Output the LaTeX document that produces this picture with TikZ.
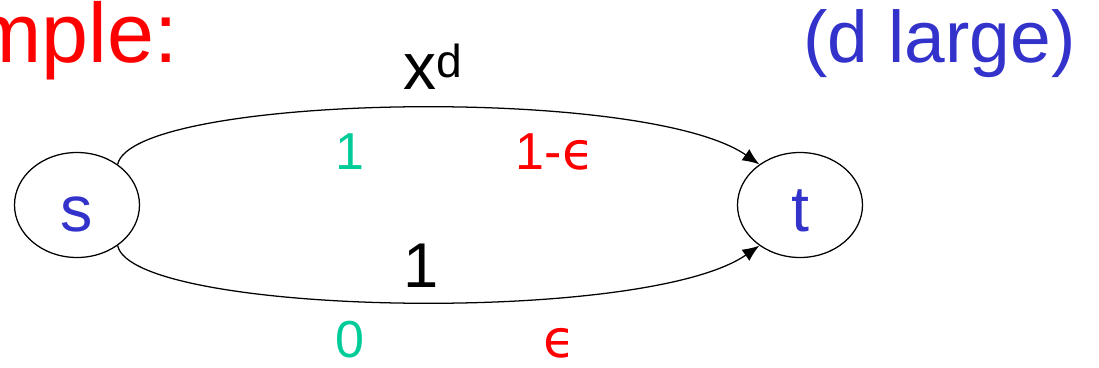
\documentclass[tikz,border=0pt]{standalone}
\usepackage{fontspec}
\setmainfont{Liberation Sans}
\newfontfamily\epsfont{DejaVu Sans}
\usepackage{tikz}
\usetikzlibrary{arrows.meta,shapes.geometric}
\definecolor{hot}{HTML}{FF0000}
\definecolor{ultra}{HTML}{3333CC}
\definecolor{mint}{HTML}{00CC99}
\newcommand{\fsz}[1]{\fontsize{#1}{#1}\selectfont}
\newcommand{\eps}{{\epsfont ϵ}}
\tikzset{
  >={Latex[length=4.2mm,width=3.4mm]},
  vertex/.style = {ellipse, draw=black, line width=0.9pt, inner sep=0pt,
                   minimum width=31.25mm, minimum height=26.25mm,
                   text=ultra, font=\fsz{46pt}, text height=37pt, text depth=0pt},
  arc/.style    = {->, draw=black, line width=0.9pt},
  lbl/.style    = {inner sep=0pt, anchor=base},
}
\begin{document}
\begin{tikzpicture}[x=0.25mm, y=-0.25mm]
\useasboundingbox (0,0) rectangle (1099,368);

% ---------------- headings --------------------------------------------
\node[lbl, anchor=base east, text=hot, font=\fsz{60pt}] (head) at (178,63) {mple:};
\node[lbl, anchor=base east, text=ultra, font=\fsz{52pt}] (note) at (1076,63) {(d large)};

% ---------------- the two vertices ------------------------------------
\node[vertex] (s) at (77,205) {s};
\node[vertex] (t) at (800,205) {t};

% ---------------- the two edges ---------------------------------------
\draw[arc] (s.45) .. controls +(15,-70) and +(-115,-80) .. (t.135);
\draw[arc] (s.-45) .. controls +(15,70) and +(-115,80) .. (t.-135);

% ---------------- edge labels -----------------------------------------
\node[lbl, font=\fsz{47pt}] (wtop) at (433,90) {x\textsuperscript{d}};
\node[lbl, font=\fsz{45pt}] (wbot) at (421,287) {1};
\node[lbl, text=mint, font=\fsz{37pt}] (ptop) at (350,169) {1};
\node[lbl, text=hot, font=\fsz{37pt}] (qtop) at (555,169) {1-\eps};
\node[lbl, text=mint, font=\fsz{37pt}] (pbot) at (350,357) {0};
\node[lbl, text=hot, font=\fsz{37pt}] (qbot) at (559,357) {\eps};

\end{tikzpicture}
\end{document}
